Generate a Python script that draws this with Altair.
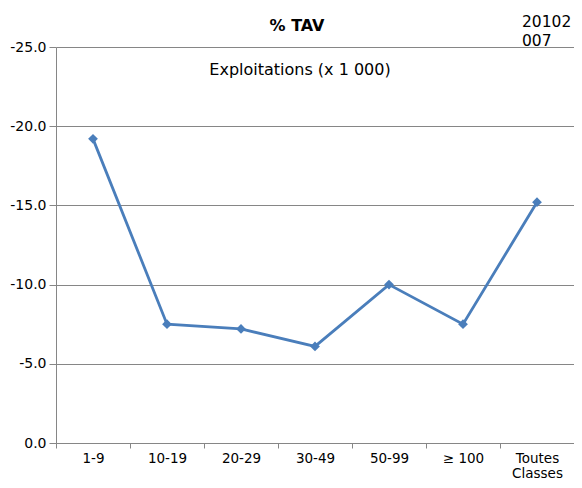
import altair as alt
import pandas as pd

categories = ["1-9", "10-19", "20-29", "30-49", "50-99", "≥ 100", "Toutes Classes"]
values = [-19.2, -7.5, -7.2, -6.1, -10.0, -7.5, -15.2]
y_ticks = [0, -5, -10, -15, -20, -25]

df = pd.DataFrame({"classe": categories, "tav": values})

FONT = "DejaVu Sans"
BLUE = "#4A7EBB"
GRAY = "#868686"

x_enc = alt.X(
    "classe:N",
    sort=categories,
    bandPosition=0.5,
    scale=alt.Scale(type="band", paddingInner=0, paddingOuter=0),
    axis=alt.Axis(
        title=None,
        labelAngle=0,
        grid=False,
        tickBand="extent",
        tickSize=5,
        tickColor=GRAY,
        domainColor=GRAY,
        labelFont=FONT,
        labelFontSize=13.5,
        labelColor="#000000",
        labelPadding=3,
        labelLineHeight=15,
        labelExpr="datum.label == 'Toutes Classes' ? ['Toutes', 'Classes'] : datum.label",
    ),
)
y_enc = alt.Y(
    "tav:Q",
    scale=alt.Scale(domain=[-25, 0], reverse=True, nice=False),
    axis=alt.Axis(
        title=None,
        values=y_ticks,
        labelExpr="replace(format(datum.value, '.1f'), '\u2212', '-')",
        grid=True,
        gridColor=GRAY,
        gridWidth=1,
        tickSize=7,
        tickColor=GRAY,
        domainColor=GRAY,
        labelFont=FONT,
        labelFontSize=14,
        labelColor="#000000",
        labelPadding=3,
    ),
)

base = alt.Chart(df)
line = base.mark_line(color=BLUE, strokeWidth=2.8).encode(x=x_enc, y=y_enc)
pts = base.mark_point(shape="diamond", filled=True, color=BLUE, size=95, opacity=1).encode(x=x_enc, y=y_enc)

title = alt.Chart(pd.DataFrame({"t": ["% TAV"]})).mark_text(
    font=FONT, fontSize=16, fontWeight="bold", color="#000000"
).encode(text="t:N", x=alt.value(241), y=alt.value(-21))

sub = alt.Chart(pd.DataFrame({"t": ["Exploitations (x 1 000)"]})).mark_text(
    font=FONT, fontSize=16, color="#000000"
).encode(text="t:N", x=alt.value(244), y=alt.value(23))

corner = alt.Chart(pd.DataFrame({"t": ["20102|007"]})).mark_text(
    font=FONT, fontSize=15.5, color="#000000", align="left", lineBreak="|", lineHeight=19.5
).encode(text="t:N", x=alt.value(466), y=alt.value(-25.5))

chart = alt.layer(line, pts, title, sub, corner).properties(
    width=518,
    height=396,
    autosize=alt.AutoSizeParams(type="none"),
    padding={"left": 48, "top": 39, "right": 0, "bottom": 37},
).configure_view(stroke=None).configure_text(baseline="middle")

chart.save("out.html", embed_options={"renderer": "svg", "actions": False})
